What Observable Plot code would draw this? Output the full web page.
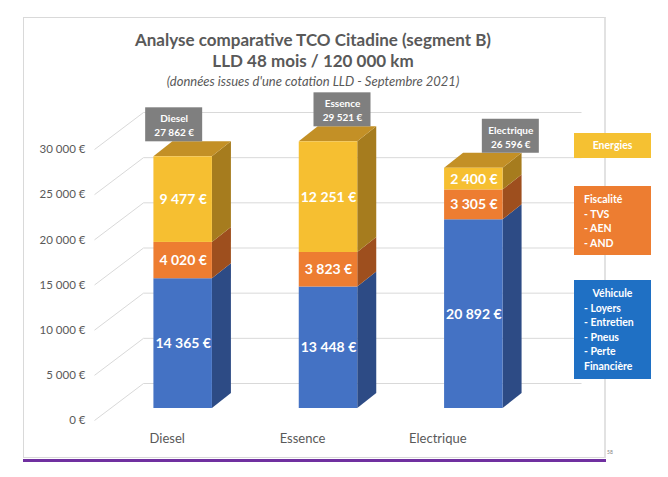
<!DOCTYPE html>
<html>
<head>
<meta charset="utf-8">
<script src="https://cdn.jsdelivr.net/npm/d3@7"></script>
<script src="https://cdn.jsdelivr.net/npm/@observablehq/plot@0.6"></script>
<style>
  html, body { margin: 0; padding: 0; background: #ffffff; }
  #wrap { position: relative; width: 668px; height: 477px; overflow: hidden; font-family: Lato, "Open Sans", sans-serif; }
  .frame { position: absolute; left: 23px; top: 17px; width: 583px; height: 441px; box-sizing: border-box;
           border: 1px solid #d9d9d9; border-right: 2px solid #e2e2e2; }
  .purple { position: absolute; left: 23px; top: 459px; width: 583px; height: 3px; background: #7030a0; }
  .pagenum { position: absolute; left: 607px; top: 449px; font-size: 5px; color: #7f7f7f; }
  #chart { position: absolute; left: 0; top: 0; }
  .t { position: absolute; left: 0; width: 626px; text-align: center; color: #595959; white-space: nowrap; }
  .t1 { top: 29px; font-size: 17px; font-weight: bold; }
  .t2 { top: 50px; font-size: 17px; font-weight: bold; }
  .t3 { top: 73px; font-size: 13px; font-style: italic; }
  .lg { position: absolute; left: 574px; width: 77px; box-sizing: border-box; color: #ffffff; font-weight: bold;
        font-size: 10.5px; line-height: 14.6px; padding-left: 10px; }
  .lg .c { display: block; text-align: center; margin-left: -10px; }
</style>
</head>
<body>
<div id="wrap">
  <div class="frame"></div>
  <div class="purple"></div>
  <div class="pagenum">58</div>
  <div id="chart"></div>
  <div class="t t1" id="title1"></div>
  <div class="t t2" id="title2"></div>
  <div class="t t3" id="title3"></div>
  <div id="legend"></div>
</div>
<script>
// ---------- data ----------
const categories = ["Diesel", "Essence", "Electrique"];
const seriesNames = ["Véhicule", "Fiscalité", "Energies"];
const vehicule = [14365, 13448, 20892];
const fiscalite = [4020, 3823, 3305];
const energies = [9477, 12251, 2400];
const totals = [27862, 29521, 26596];
const yTicks = [0, 5000, 10000, 15000, 20000, 25000, 30000];
const titleLines = ["Analyse comparative TCO Citadine (segment B)", "LLD 48 mois / 120 000 km", "(données issues d'une cotation LLD - Septembre 2021)"];
const legendEnergies = ["Energies"];
const legendFiscalite = ["Fiscalité", "- TVS", "- AEN", "- AND"];
const legendVehicule = ["Véhicule", "- Loyers", "- Entretien", "- Pneus", "- Perte", "Financière"];

// ---------- styles / geometry ----------
const colors = {
  "Véhicule": {front: "#4472c4", side: "#2d4b85", top: "#3a62aa", legend: "#1f70c4"},
  "Fiscalité": {front: "#ed7d31", side: "#9e4f1e", top: "#c4662a", legend: "#ed7d31"},
  "Energies": {front: "#f6bf31", side: "#a67c1e", top: "#c39026", legend: "#f5c132"}
};
const W = 668, H = 477;
const mL = 94, mR = 138, mT = 149, mB = 57;
const PXX = (W - mL - mR) / 3;          // pixels per category unit
const PXY = (H - mT - mB) / 30000;      // pixels per euro
const ux = px => px / PXX;
const uy = px => px / PXY;
const FRONT = {x: ux(16), y: uy(12)};   // bar front plane offset
const BACK = {x: ux(35), y: uy(27)};    // bar back plane offset
const WALL = {x: ux(49), y: uy(37)};    // back wall offset
const HALF = ux(29.25);
const X0 = -0.5, X1 = 2.5;
// slight perspective spread of the labels around the middle category
const spread = (i, px) => (i - (categories.length - 1) / 2) * ux(px);

const fmt = v => String(v).replace(/\B(?=(\d{3})+(?!\d))/g, " ") + " €";

// stacked segments
const seriesValues = [vehicule, fiscalite, energies];
const segments = [];
categories.forEach((c, i) => {
  let b = 0;
  seriesNames.forEach((s, k) => {
    const v = seriesValues[k][i];
    segments.push({i, cat: c, series: s, value: v, b, t: b + v, last: k === seriesNames.length - 1});
    b += v;
  });
});

const sideRows = segments.flatMap((d, j) => [
  {id: "s" + j, x1: d.i + HALF + FRONT.x, y1: d.b + FRONT.y, x2: d.i + HALF + FRONT.x, y2: d.t + FRONT.y, fill: colors[d.series].side},
  {id: "s" + j, x1: d.i + HALF + BACK.x, y1: d.b + BACK.y, x2: d.i + HALF + BACK.x, y2: d.t + BACK.y, fill: colors[d.series].side}
]);
const topRows = segments.filter(d => d.last).flatMap((d, j) => [
  {id: "t" + j, x1: d.i - HALF + FRONT.x, y1: d.t + FRONT.y, x2: d.i - HALF + BACK.x, y2: d.t + BACK.y, fill: colors[d.series].top},
  {id: "t" + j, x1: d.i + HALF + FRONT.x, y1: d.t + FRONT.y, x2: d.i + HALF + BACK.x, y2: d.t + BACK.y, fill: colors[d.series].top}
]);
const totalRows = categories.map((c, i) => ({i, cat: c, total: totals[i], xc: i + FRONT.x + ux(14) + spread(i, 23)}));

const plot = Plot.plot({
  width: W, height: H,
  marginLeft: mL, marginRight: mR, marginTop: mT, marginBottom: mB,
  x: {type: "linear", domain: [X0, X1], axis: null},
  y: {type: "linear", domain: [0, 30000], axis: null},
  color: {type: "identity"},
  style: {background: "transparent", fontFamily: "Lato, 'Open Sans', sans-serif", overflow: "visible"},
  marks: [
    // wall gridlines
    Plot.link(yTicks, {x1: X0, y1: d => d, x2: X0 + WALL.x, y2: d => d + WALL.y, stroke: "#d9d9d9", strokeWidth: 1}),
    Plot.link(yTicks, {x1: X0 + WALL.x, y1: d => d + WALL.y, x2: X1 + WALL.x + ux(2), y2: d => d + WALL.y, stroke: "#d9d9d9", strokeWidth: 1}),
    // y tick labels
    Plot.text(yTicks, {x: X0, y: d => d, text: fmt, textAnchor: "end", dx: -9, fill: "#595959", fontSize: 11.5}),
    // bar side faces
    Plot.area(sideRows, {x1: "x1", y1: "y1", x2: "x2", y2: "y2", z: "id", fill: "fill"}),
    // bar top faces
    Plot.area(topRows, {x1: "x1", y1: "y1", x2: "x2", y2: "y2", z: "id", fill: "fill"}),
    // bar front faces
    Plot.rect(segments, {x1: d => d.i - HALF + FRONT.x, x2: d => d.i + HALF + FRONT.x,
                         y1: d => d.b + FRONT.y, y2: d => d.t + FRONT.y, fill: d => colors[d.series].front}),
    // value labels
    Plot.text(segments, {x: d => d.i + FRONT.x, y: d => (d.b + d.t) / 2 + FRONT.y, text: d => fmt(d.value),
                         fill: "#ffffff", fontWeight: "bold", fontSize: 14}),
    // total boxes
    Plot.rect(totalRows, {x1: d => d.xc - ux(28.5), x2: d => d.xc + ux(28.5),
                          y1: d => d.total + BACK.y, y2: d => d.total + BACK.y + uy(34), fill: "#7f7f7f"}),
    Plot.text(totalRows, {x: "xc", y: d => d.total + BACK.y + uy(17), text: d => d.cat + "\n" + fmt(d.total),
                          fill: "#ffffff", fontSize: 10, fontWeight: "bold", lineHeight: 1.4}),
    // category labels
    Plot.text(categories, {x: (d, i) => i + spread(i, -10), y: 0, text: d => d, dy: 18, dx: -10, fill: "#595959", fontSize: 13})
  ]
});
document.getElementById("chart").appendChild(plot);

document.getElementById("title1").textContent = titleLines[0];
document.getElementById("title2").textContent = titleLines[1];
document.getElementById("title3").textContent = titleLines[2];

// legend boxes
const legendSpecs = [
  {lines: legendEnergies, color: colors["Energies"].legend, top: 133, height: 25, centerFirst: true, padTop: 5},
  {lines: legendFiscalite, color: colors["Fiscalité"].legend, top: 186, height: 69, centerFirst: false, padTop: 6},
  {lines: legendVehicule, color: colors["Véhicule"].legend, top: 280, height: 99, centerFirst: true, padTop: 6}
];
const lg = document.getElementById("legend");
legendSpecs.forEach(s => {
  const div = document.createElement("div");
  div.className = "lg";
  div.style.top = s.top + "px";
  div.style.height = s.height + "px";
  div.style.background = s.color;
  div.style.paddingTop = s.padTop + "px";
  s.lines.forEach((l, k) => {
    const sp = document.createElement("span");
    sp.style.display = "block";
    if (k === 0 && s.centerFirst) sp.className = "c";
    sp.textContent = l;
    div.appendChild(sp);
  });
  lg.appendChild(div);
});
</script>
</body>
</html>
